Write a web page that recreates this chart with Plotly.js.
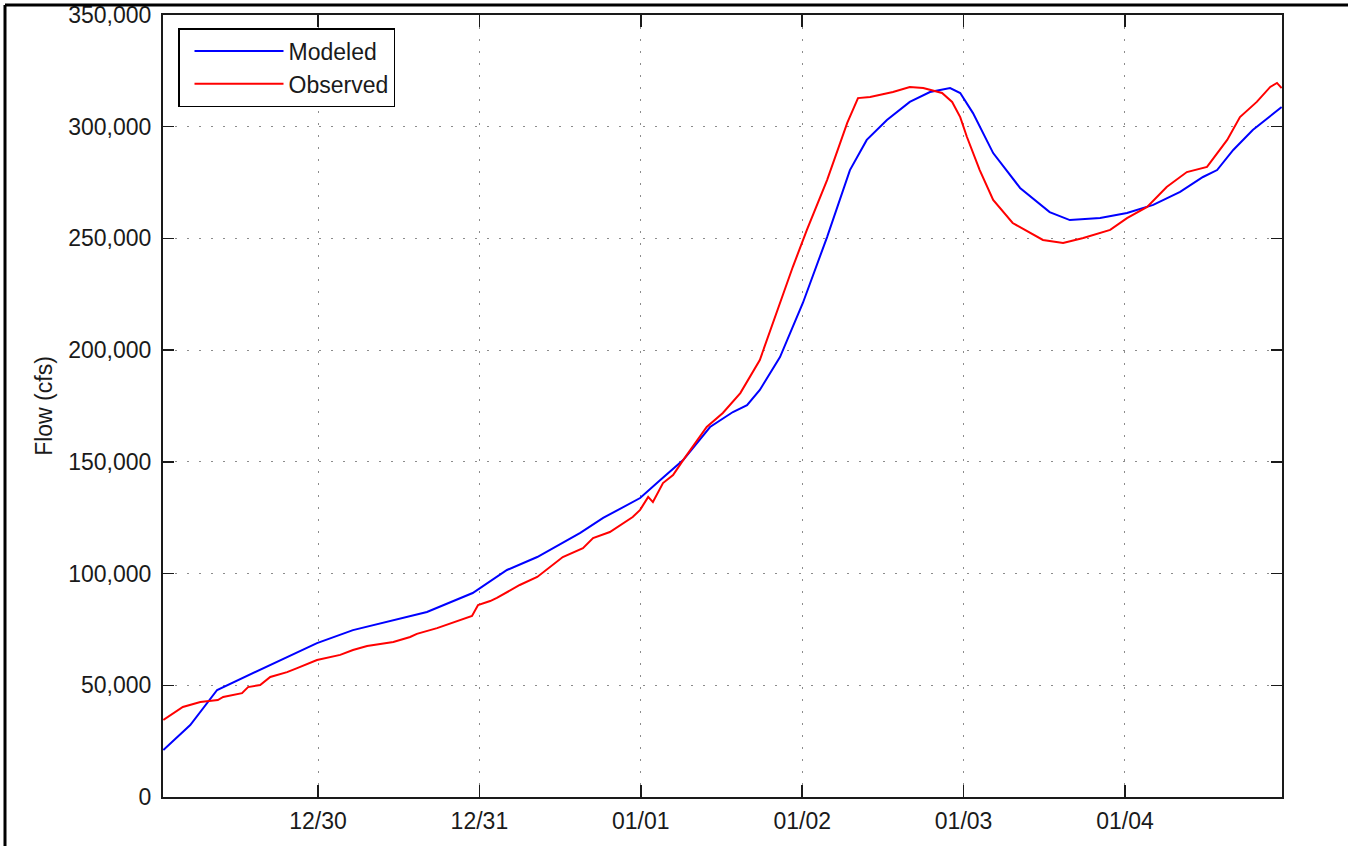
<!DOCTYPE html>
<html>
<head>
<meta charset="utf-8">
<script src="https://cdn.plot.ly/plotly-3.0.1.min.js"></script>
<style>
html,body{margin:0;padding:0;background:#fff;}
#chart{width:1348px;height:846px;}
</style>
</head>
<body>
<div id="chart"></div>
<script>
// Hours since 1996-12-29 00:00
const modeledHours = [1.0,5.0,9.0,15.4,23.85,29.2,35.2,40.2,47.0,49.6,52.1,56.6,63.0,66.4,71.9,74.9,78.3,82.3,85.7,87.8,89.7,92.7,96.1,99.7,103.1,105.6,108.6,112.0,115.0,118.0,119.5,121.4,124.4,128.4,132.8,135.8,140.3,144.3,148.2,152.2,155.6,157.7,160.1,163.0,167.3];
const modeledFlow = [21000,32200,47900,56800,68900,74700,79200,82800,91300,96700,101600,107400,118200,124900,133800,141900,150800,165600,172300,175400,182200,196900,221100,250600,280600,294100,303000,311100,315500,317300,315100,306100,288200,272600,261800,258200,259100,261400,265000,270800,277500,280600,289600,298500,308800];

const observedHours = [1.0,3.9,6.5,9.1,9.9,12.7,13.6,15.4,16.9,19.4,20.9,23.85,27.3,29.2,31.3,35.2,37.7,38.7,41.7,45.1,46.9,47.8,49.6,50.6,54.0,56.6,60.4,63.4,64.9,67.4,70.8,71.9,73.1,73.8,75.3,76.8,78.3,81.8,84.2,86.8,89.7,94.6,96.7,99.7,102.7,104.3,106.1,109.5,112.0,114.0,116.8,118.3,119.5,120.5,122.4,124.4,127.3,131.8,134.8,137.8,141.8,144.3,147.3,150.2,153.2,156.2,157.7,159.2,161.1,163.6,165.6,166.6,167.3];
const observedFlow = [34500,40300,42500,43400,44800,46500,49200,50100,53700,55900,57700,61300,63600,65800,67600,69400,71600,73000,75600,79200,81000,85900,87700,89100,94900,98500,107400,111400,115900,118600,125300,128500,134300,132000,140500,144100,150800,165600,171900,180800,195600,237200,253800,276100,301700,312800,313300,315500,317800,317300,315100,311100,304300,295400,280600,267200,256900,249300,248000,250200,253800,259100,264100,273000,279700,282000,288200,294100,304300,311100,317800,319600,317300];

const tickDates = ['1996-12-30','1996-12-31','1997-01-01','1997-01-02','1997-01-03','1997-01-04'];
const tickLabels = ['12/30','12/31','01/01','01/02','01/03','01/04'];
const seriesNames = ['Modeled','Observed'];

const BASE = Date.UTC(1996,11,29,0,0,0);
function toDate(h){
  return new Date(BASE + h*3600000).toISOString().replace('T',' ').slice(0,19);
}

const FONT = 'Liberation Sans, Arial, Helvetica, sans-serif';
const TXT = '#1a1a1a';

const traces = [
  {x: modeledHours.map(toDate), y: modeledFlow, name: seriesNames[0], type:'scatter', mode:'lines',
   line:{color:'#0000ff', width:2}},
  {x: observedHours.map(toDate), y: observedFlow, name: seriesNames[1], type:'scatter', mode:'lines',
   line:{color:'#ff0000', width:2}}
];

// paper coordinate helpers for the outer frame
const L=163, R=1282, T=15, B=797;
const px = v => (v-L)/(R-L);
const py = v => (B-v)/(B-T);

const layout = {
  width:1348, height:846,
  margin:{l:163, r:66, t:15, b:49, pad:0},
  paper_bgcolor:'#fff', plot_bgcolor:'#fff',
  font:{family:FONT, size:23, color:TXT},
  showlegend:true,
  legend:{x:px(178), y:py(28), xanchor:'left', yanchor:'top',
    bgcolor:'#fff', bordercolor:'#000', borderwidth:1.5,
    font:{family:FONT, size:23, color:TXT},
    itemwidth:89, indentation:10, tracegroupgap:0},
  xaxis:{
    type:'date',
    range:[toDate(0.95), toDate(167.35)],
    tickvals:tickDates, ticktext:tickLabels,
    showline:true, linecolor:'#1a1a1a', linewidth:2, mirror:'ticks',
    ticks:'inside', ticklen:12, tickwidth:1.5, tickcolor:'#1a1a1a',
    showgrid:true, gridcolor:'#8c8c8c', griddash:'2px,10px', gridwidth:1,
    zeroline:false, ticklabelstandoff:2,
    tickfont:{family:FONT, size:23, color:TXT}
  },
  yaxis:{
    range:[0,350000], dtick:50000, tick0:0, tickformat:',d',
    showline:true, linecolor:'#1a1a1a', linewidth:2, mirror:'ticks',
    ticks:'inside', ticklen:11, tickwidth:1.5, tickcolor:'#1a1a1a',
    showgrid:true, gridcolor:'#8c8c8c', griddash:'2px,10px', gridwidth:1,
    zeroline:false, ticklabelstandoff:5,
    tickfont:{family:FONT, size:23, color:TXT},
    title:{text:'Flow (cfs)', font:{family:FONT, size:23, color:TXT}, standoff:9}
  },
  shapes:[
    {type:'line', xref:'paper', yref:'paper', x0:px(5), x1:px(5), y0:py(5), y1:py(846), line:{color:'#000', width:3}},
    {type:'line', xref:'paper', yref:'paper', x0:px(5), x1:px(1348), y0:py(5), y1:py(5), line:{color:'#000', width:3}}
  ]
};

Plotly.newPlot('chart', traces, layout, {displayModeBar:false, staticPlot:true});
</script>
</body>
</html>
